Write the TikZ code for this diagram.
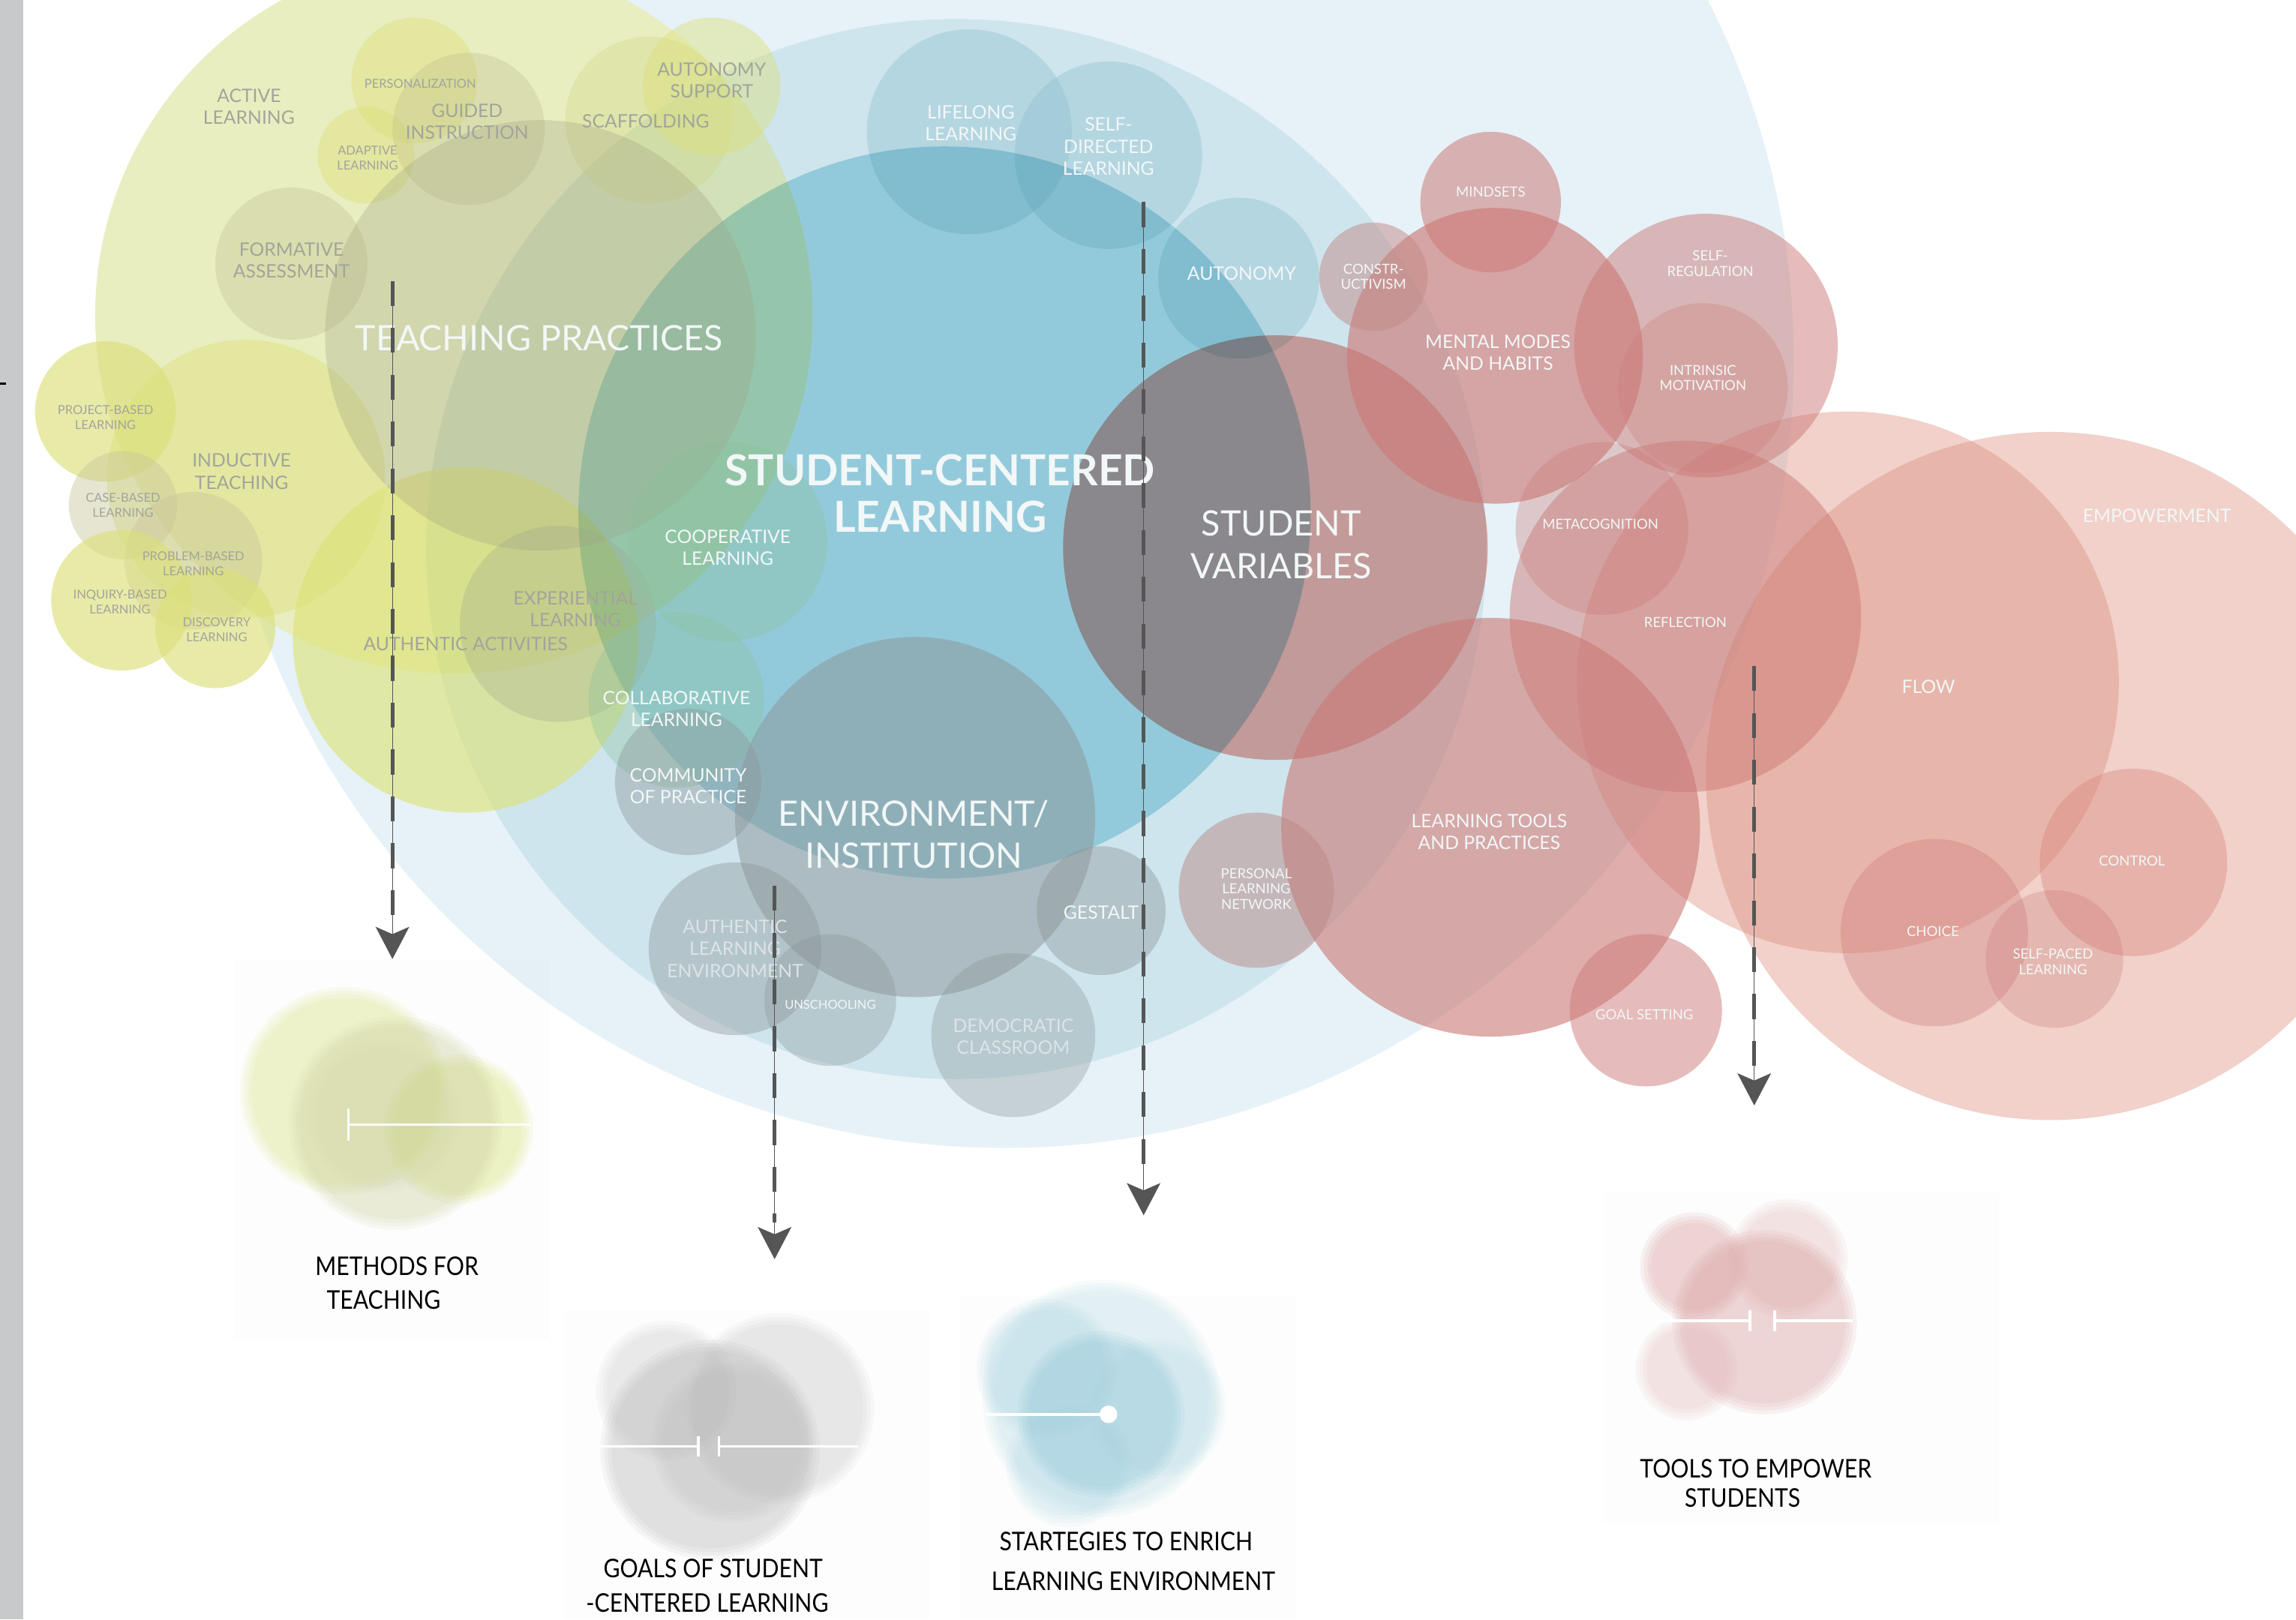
\documentclass[tikz,border=0pt]{standalone}
\usepackage{fontspec}
\setmainfont{Lato}
\newfontfamily\handfont[FakeStretch=0.88]{Lato}
\usetikzlibrary{arrows.meta}

\definecolor{strip}{HTML}{C8C9CB}
\definecolor{tagdim}{HTML}{A2A59B}
\definecolor{tagsoft}{HTML}{DDE3E6}
\definecolor{tagwhite}{HTML}{F2F7F7}
\definecolor{guidegrey}{HTML}{555555}
\definecolor{boxbg}{HTML}{FDFDFD}
\definecolor{paleyellow}{HTML}{E9EEC1}

\tikzset{
  tag/.style={align=center,inner sep=0pt,text=tagwhite,font=\fontsize{7.2}{8.5}\selectfont},
  tagsm/.style={tag,font=\fontsize{4.8}{5.7}\selectfont},
  tagred/.style={tag,font=\fontsize{5.4}{6.0}\selectfont},
  tagbig/.style={tag,font=\fontsize{13.6}{16.4}\selectfont},
  dim/.style={text=tagdim},
  caption/.style={inner sep=0pt,font=\handfont\fontsize{10}{12}\selectfont},
  guide/.style={draw=guidegrey,line width=0.35pt,-{Stealth[length=0.44cm,width=0.46cm,inset=0.1cm]},fill=guidegrey},
  guidedash/.style={draw=guidegrey,line width=1.5pt,dash pattern=on 0.34cm off 0.3cm},
  ruler/.style={draw=white,line width=1pt},
}
% x, y, radius, hex colour -- multiplied onto what lies below
\newcommand{\bubbles}[1]{%
  \begin{scope}[blend mode=multiply]
  \foreach \x/\y/\r/\c in {#1}
    {\definecolor{bub}{HTML}{\c}\fill[bub] (\x,\y) circle[radius=\r];}
  \end{scope}}
% x, y, radius, hex colour, opacity
\newcommand{\blobs}[1]{%
  \foreach \x/\y/\r/\c/\a in {#1}
    {\definecolor{bub}{HTML}{\c}\fill[bub,fill opacity=\a] (\x,\y) circle[radius=\r];}}
% same with a soft rim, for the small previews
\newcommand{\softblobs}[1]{%
  \foreach \x/\y/\r/\c/\a in {#1}
    {\definecolor{bub}{HTML}{\c}%
     \foreach \d in {5,2.5,0,-2.5}
       \fill[bub,fill opacity=\a] (\x,\y) circle[radius=\r+\d];}}

\begin{document}
\begin{tikzpicture}[x=0.02cm,y=-0.02cm]
  \useasboundingbox (0,0) rectangle (1568,1106);
  \fill[white] (0,0) rectangle (1568,1106);

  % preview panels
  \fill[boxbg] (160,655) rectangle (375,915);
  \fill[boxbg] (385,895) rectangle (635,1106);
  \fill[boxbg] (655,885) rectangle (885,1106);
  \fill[boxbg] (1095,815) rectangle (1365,1040);

  % blue field and the wide teaching disc
  \bubbles{686/245/539/E6F2F7}
  \fill[paleyellow] (310,215) circle[radius=245];
  \bubbles{653/375/362/E5F2F6}
  \blobs{662/90/70/8FC0CE/0.4, 757/106/64/8FC0CE/0.4, 846/190/55/8FC0CE/0.4}
  \blobs{318/437/118/DCE270/0.6}
  \bubbles{645/350/250/B7E1EB}
  % teaching side
  \blobs{168/327/95/DCE07A/0.45, 72/281/48/DCE07A/0.65, 84/345/37/C8C79A/0.45,
    132/383/47/C8C79A/0.45, 83/410/48/DCE07A/0.65, 147/429/41/DCE07A/0.65,
    199/180/52/BDBE86/0.32, 283/55/43/DCE07A/0.45, 250/106/33/DCE07A/0.45,
    320/88/52/BDBE86/0.32, 443/82/57/D2D88A/0.4, 486/59/47/DCE07A/0.45,
    369/229/147/A0A080/0.3, 381/426/67/A0A58A/0.3}
  \node[tag,dim] (experiential) at (393,416) {EXPERIENTIAL\\LEARNING};
  \blobs{497/370/68/8CC29C/0.35, 462/478/60/8CC29C/0.35, 470/534/50/8C9597/0.4}
  % environment side
  \blobs{625/558/123/8C9597/0.5,
    502/648/59/8C9597/0.4, 567/683/45/8C9597/0.35, 752/622/44/8C9597/0.42,
    692/707/56/8C9597/0.35}
  % student side
  \bubbles{871/374/145/F0ACA4}
  \blobs{1262/466/185/DC8C7C/0.4, 1400/530/235/DC8C7C/0.4,
    1151/421/120/CC7B78/0.5,
    1094/361/59/CC7B78/0.35, 1021/243/101/CC7B78/0.65,
    1018/138/48/CC7B78/0.55, 938/189/37/C48A88/0.5, 1165/236/90/CC7B78/0.5,
    1163/265/58/CC7B78/0.3, 1018/565/143/CC7B78/0.62, 858/608/53/BC8A88/0.5,
    1124/690/52/CC7B78/0.5, 1457/589/64/D8847A/0.4, 1321/637/64/CC7B78/0.35,
    1403/655/47/CC7B78/0.3}
  % previews
  \softblobs{235/745/66/DDE78A/0.13, 313/771/46/DCE67A/0.13, 270/767/68/C8CC98/0.1,
    262/762/48/D2D5B0/0.07}
  \softblobs{455/950/43/C4C4C4/0.09, 532/962/60/BDBDBD/0.09, 485/990/70/B0B0B0/0.1,
    500/985/50/B8B8B8/0.08}
  \softblobs{752/955/76/B5DCE7/0.1, 715/935/43/A8D5E2/0.1, 790/962/43/B5DCE7/0.08,
    730/1000/38/B5DCE7/0.1, 752/966/52/8CC5D6/0.11}
  \softblobs{1157/865/32/D89A9A/0.12, 1221/860/36/E2B5B5/0.1, 1205/903/58/DCA2A2/0.13,
    1152/935/30/E2B5B5/0.1}

  % teaching labels
  \node[tag,dim] (active) at (170,73) {ACTIVE\\LEARNING};
  \node[tagsm,dim] (personal) at (287,57) {PERSONALIZATION};
  \node[tag,dim] (guided) at (319,83) {GUIDED\\INSTRUCTION};
  \node[tagsm,dim] (adaptive) at (251,108) {ADAPTIVE\\LEARNING};
  \node[tag,dim] (autsup) at (486,55) {AUTONOMY\\SUPPORT};
  \node[tag,dim] (scaff) at (441,83) {SCAFFOLDING};
  \node[tag,dim] (formative) at (199,178) {FORMATIVE\\ASSESSMENT};
  \node[tagbig] (teaching) at (368,231) {TEACHING PRACTICES};
  \node[tagsm,dim] (project) at (72,285) {PROJECT-BASED\\LEARNING};
  \node[tag,dim] (inductive) at (165,322) {INDUCTIVE\\TEACHING};
  \node[tagsm,dim] (case) at (84,345) {CASE-BASED\\LEARNING};
  \node[tagsm,dim] (problem) at (132,385) {PROBLEM-BASED\\LEARNING};
  \node[tagsm,dim] (inquiry) at (82,411) {INQUIRY-BASED\\LEARNING};
  \node[tagsm,dim] (discovery) at (148,430) {DISCOVERY\\LEARNING};
  \node[tag,dim] (authact) at (318,440) {AUTHENTIC ACTIVITIES};
  \node[tag] (coop) at (497,374) {COOPERATIVE\\LEARNING};
  \node[tag] (collab) at (462,484) {COLLABORATIVE\\LEARNING};
  \node[tag] (community) at (470,537) {COMMUNITY\\OF PRACTICE};

  % centre labels
  \node[tag,font=\bfseries\fontsize{16.6}{18.2}\selectfont] (scl) at (642,337) {STUDENT-CENTERED\\LEARNING};
  \node[tagbig] (env) at (624,570) {ENVIRONMENT/\\INSTITUTION};
  \node[tag,text=tagsoft] (authenv) at (502,648) {AUTHENTIC\\LEARNING\\ENVIRONMENT};
  \node[tagsm] (unschool) at (567,686) {UNSCHOOLING};
  \node[tag] (gestalt) at (752,623) {GESTALT};
  \node[tag,text=tagsoft] (democratic) at (692,708) {DEMOCRATIC\\CLASSROOM};
  \node[tag] (lifelong) at (663,84) {LIFELONG\\LEARNING};
  \node[tag] (selfdir) at (757,100) {SELF-\\DIRECTED\\LEARNING};
  \node[tag] (autonomy) at (848,187) {AUTONOMY};

  % student labels
  \node[tagbig] (studvar) at (875,372) {STUDENT\\VARIABLES};
  \node[tagred] (constr) at (938,189) {CONSTR-\\UCTIVISM};
  \node[tagred] (mindsets) at (1018,131) {MINDSETS};
  \node[tag] (mental) at (1023,241) {MENTAL MODES\\AND HABITS};
  \node[tagred] (selfreg) at (1168,180) {SELF-\\REGULATION};
  \node[tagred] (intrinsic) at (1163,258) {INTRINSIC\\MOTIVATION};
  \node[tagred] (metacog) at (1093,358) {METACOGNITION};
  \node[tagred] (reflection) at (1151,425) {REFLECTION};
  \node[tag] (empower) at (1473,352) {EMPOWERMENT};
  \node[tag] (flow) at (1317,469) {FLOW};
  \node[tag] (tools) at (1017,568) {LEARNING TOOLS\\AND PRACTICES};
  \node[tagred] (pln) at (858,607) {PERSONAL\\LEARNING\\NETWORK};
  \node[tagred] (control) at (1456,588) {CONTROL};
  \node[tagred] (choice) at (1320,636) {CHOICE};
  \node[tagred] (selfpaced) at (1402,657) {SELF-PACED\\LEARNING};
  \node[tagred] (goal) at (1123,693) {GOAL SETTING};

  % preview rulers
  \draw[ruler] (238,768) -- (362,768) (238,757) -- (238,779);
  \draw[ruler] (410,988) -- (477,988) (477,981) -- (477,995);
  \draw[ruler] (491,988) -- (586,988) (491,981) -- (491,995);
  \draw[ruler] (673,966) -- (757,966);
  \fill[white] (757,966) circle[radius=6];
  \draw[ruler] (1132,902) -- (1195,902) (1195,895) -- (1195,909);
  \draw[ruler] (1212,902) -- (1265,902) (1212,895) -- (1212,909);

  % guide arrows
  \coordinate (teach-top) at (268,192);  \coordinate (teach-tip) at (268,655);
  \coordinate (goals-top) at (529,605);  \coordinate (goals-tip) at (529,860);
  \coordinate (strat-top) at (781,138);  \coordinate (strat-tip) at (781,830);
  \coordinate (tools-top) at (1198,455); \coordinate (tools-tip) at (1198,755);
  \foreach \a in {teach,goals,strat,tools} {
    \draw[guidedash] (\a-top) -- ([yshift=0.5cm]\a-tip);
    \draw[guide] (\a-top) -- (\a-tip);
  }

  % captions
  \node[caption] (cap1a) at (271,865) {METHODS FOR};
  \node[caption] (cap1b) at (262,888) {TEACHING};
  \node[caption] (cap2a) at (487,1071) {GOALS OF STUDENT};
  \node[caption] (cap2b) at (483,1095) {-CENTERED LEARNING};
  \node[caption] (cap3a) at (769,1053) {STARTEGIES TO ENRICH};
  \node[caption] (cap3b) at (774,1080) {LEARNING ENVIRONMENT};
  \node[caption] (cap4a) at (1199,1003) {TOOLS TO EMPOWER};
  \node[caption] (cap4b) at (1190,1023) {STUDENTS};

  % side strip
  \fill[strip] (0,0) rectangle (16,1106);
  \draw[black,line width=0.6pt] (0,262) -- (4,262);
\end{tikzpicture}
\end{document}
